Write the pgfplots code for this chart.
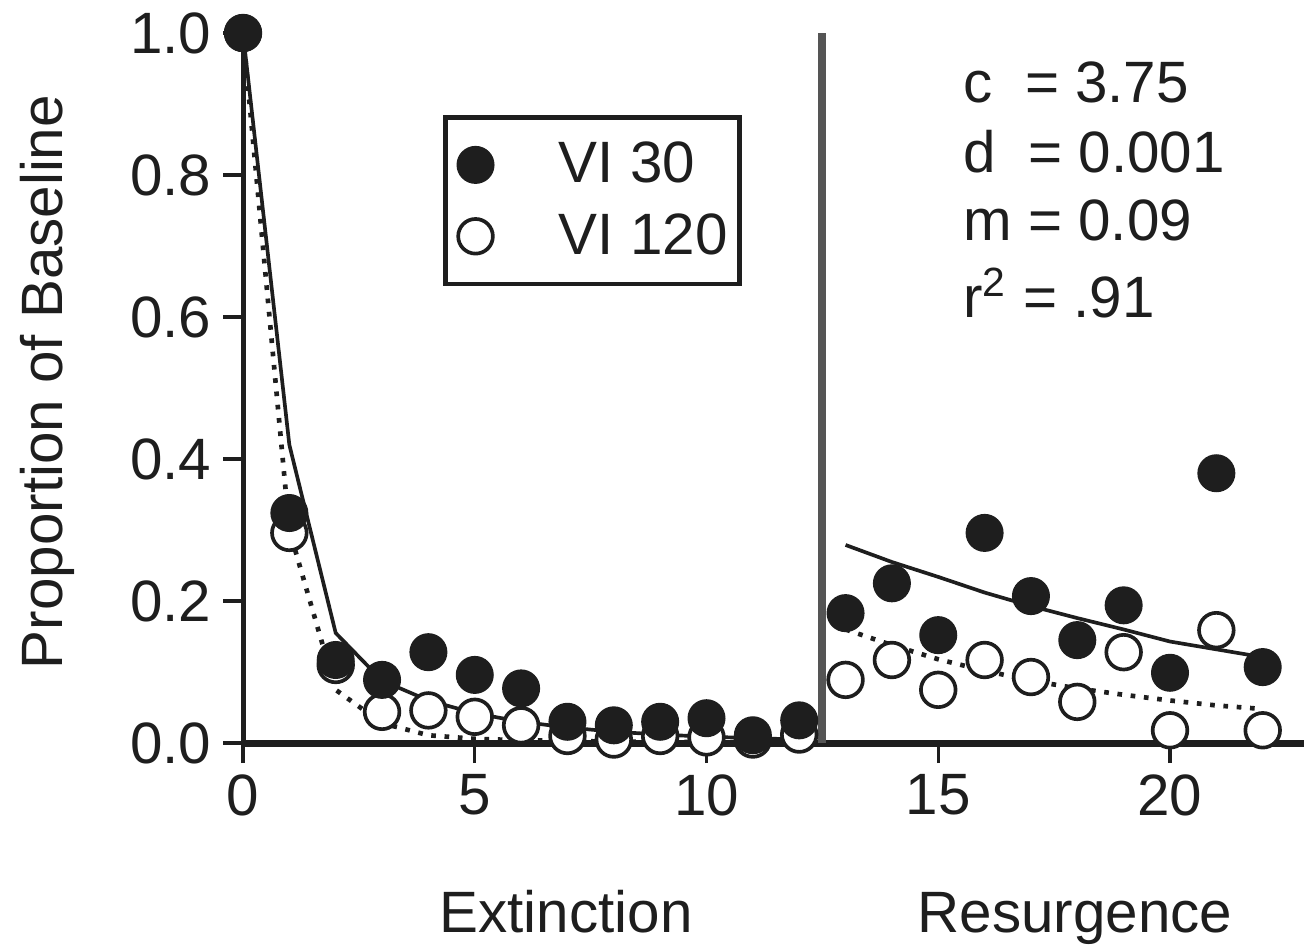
\documentclass[border=0pt]{standalone}
\usepackage{fontspec}
\setmainfont{Liberation Sans}
\usepackage{pgfplots}
\usepackage{pgfplotstable}
\pgfplotsset{compat=1.18}

\definecolor{ink}{HTML}{1E1E1E}
\definecolor{divider}{HTML}{555555}
\newcommand{\chartfont}{\fontsize{17.5}{21}\selectfont}

% proportion of baseline responding per session
\pgfplotstableread{
x   vi30   vi120
0   1.000  1.000
1   0.324  0.296
2   0.117  0.110
3   0.089  0.044
4   0.128  0.046
5   0.096  0.037
6   0.077  0.025
7   0.030  0.010
8   0.025  0.005
9   0.030  0.010
10  0.035  0.008
11  0.011  0.005
12  0.032  0.012
13  0.183  0.089
14  0.225  0.117
15  0.152  0.075
16  0.296  0.117
17  0.207  0.093
18  0.145  0.058
19  0.194  0.128
20  0.099  0.018
21  0.380  0.159
22  0.107  0.018
}\sessions

% model predictions, extinction phase
\pgfplotstableread{
x   vi30   vi120
0   1.000  1.000
1   0.420  0.300
2   0.155  0.075
3   0.088  0.028
4   0.060  0.011
5   0.042  0.006
6   0.030  0.004
7   0.022  0.003
8   0.016  0.002
9   0.012  0.002
10  0.009  0.001
11  0.007  0.001
12  0.005  0.001
}\fitext

% model predictions, resurgence phase
\pgfplotstableread{
x   vi30   vi120
13  0.279  0.160
14  0.255  0.138
15  0.234  0.118
16  0.212  0.102
17  0.193  0.088
18  0.176  0.077
19  0.160  0.068
20  0.143  0.060
21  0.132  0.053
22  0.121  0.048
}\fitres

\begin{document}
\begin{tikzpicture}
\begin{axis}[
  scale only axis,
  width=318.4pt, height=213pt,
  xmin=0, xmax=22.9, ymin=0, ymax=1,
  axis lines=left,
  clip=false,
  x axis line style={-, line width=2.1pt, ink},
  y axis line style={-, line width=1.5pt, ink},
  xtick={0,5,10,15,20},
  ytick={0,0.2,0.4,0.6,0.8,1.0},
  tick align=outside,
  major tick length=6pt,
  tick style={line width=1pt, ink},
  /pgf/number format/assume math mode=true,
  yticklabel style={/pgf/number format/fixed,
                    /pgf/number format/fixed zerofill,
                    /pgf/number format/precision=1},
  tick label style={font=\chartfont, text=ink},
  legend cell align=left,
  reverse legend,
  legend style={at={(rel axis cs:0.1883,0.8845)}, anchor=north west,
    draw=ink, line width=1.4pt, fill=white,
    font=\chartfont, text=ink,
    inner xsep=1.5pt, inner ysep=5.4pt,
    row sep=3.7pt},
  legend image code/.code={%
    \path[draw=none, fill=none] (0pt,0pt) -- (30.6pt,0pt);
    \draw[#1] plot[only marks] coordinates {(7.6pt,0pt)};},
]
  \coordinate (ll) at (axis cs:-5.243,-0.2873);
  \coordinate (ur) at (axis cs:23.15,1.0465);

  \draw[divider, line width=2.4pt] (axis cs:12.5,0) -- (axis cs:12.5,1);

  \addplot[only marks, mark=*, mark size=5.2pt,
           mark options={fill=white, draw=ink, line width=1.1pt}]
    table[x=x, y=vi120] {\sessions};
  \addlegendentry{VI 120}
  \addplot[only marks, mark=*, mark size=5.5pt,
           mark options={fill=ink, draw=ink, line width=0.4pt}]
    table[x=x, y=vi30] {\sessions};
  \addlegendentry{VI 30}

  \addplot[forget plot, no markers, ink, line width=1.1pt]
    table[x=x, y=vi30] {\fitext};
  \addplot[forget plot, no markers, ink, line width=1.4pt,
           dash pattern=on 1.4pt off 2.6pt]
    table[x=x, y=vi120] {\fitext};
  \addplot[forget plot, no markers, ink, line width=1.1pt]
    table[x=x, y=vi30] {\fitres};
  \addplot[forget plot, no markers, ink, line width=1.4pt,
           dash pattern=on 1.4pt off 2.6pt]
    table[x=x, y=vi120] {\fitres};

  \node[anchor=base, font=\chartfont, text=ink] at (axis cs:6.97,-0.2662) {Extinction};
  \node[anchor=base, font=\chartfont, text=ink] at (axis cs:17.95,-0.2662) {Resurgence};
  \node[anchor=base, rotate=90, font=\chartfont, text=ink] at (axis cs:-3.905,0.5085) {Proportion of Baseline};

  \node[anchor=base west, font=\chartfont, text=ink, inner sep=0pt] at (axis cs:15.53,0.9028) {c\ \ = 3.75};
  \node[anchor=base west, font=\chartfont, text=ink, inner sep=0pt] at (axis cs:15.53,0.8042) {d\ \ = 0.001};
  \node[anchor=base west, font=\chartfont, text=ink, inner sep=0pt] at (axis cs:15.53,0.7085) {m = 0.09};
  \node[anchor=base west, font=\chartfont, text=ink, inner sep=0pt] at (axis cs:15.53,0.6) {r\textsuperscript{2} = .91};
\end{axis}
\pgfresetboundingbox
\path (ll) rectangle (ur);
\end{tikzpicture}
\end{document}
